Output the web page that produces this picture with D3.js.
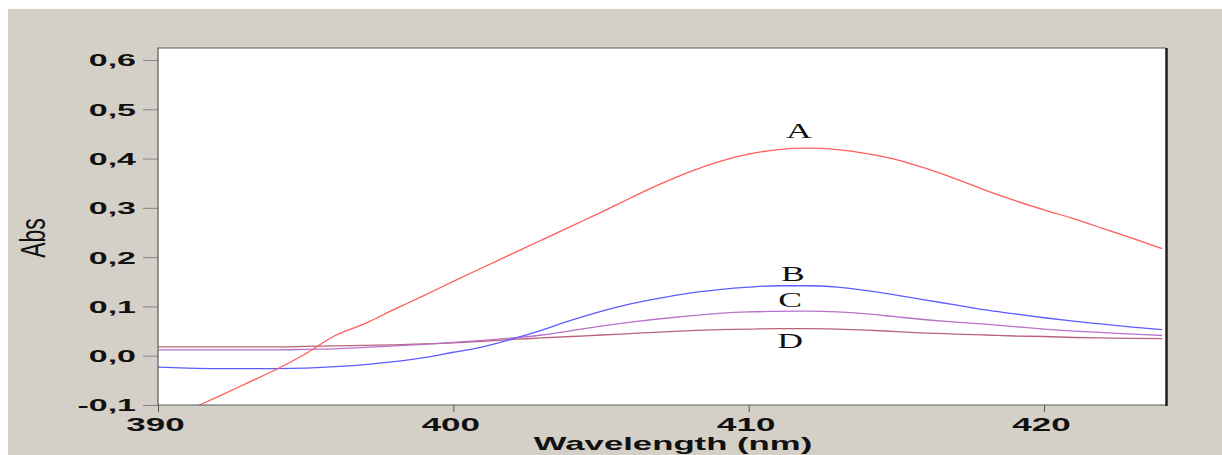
<!DOCTYPE html>
<html>
<head>
<meta charset="utf-8">
<script src="https://cdn.jsdelivr.net/npm/d3@7"></script>
<style>
  html, body { margin: 0; padding: 0; background: #ffffff; }
  svg { display: block; }
</style>
</head>
<body>
<svg id="chart" width="1222" height="455"></svg>
<script>
// Absorption spectra, 390–424 nm
const wavelength = [390, 391, 392, 393, 394, 395, 396, 397, 398, 399,
                    400, 401, 402, 403, 404, 405, 406, 407, 408, 409,
                    410, 411, 412, 413, 414, 415, 416, 417, 418, 419,
                    420, 421, 422, 423, 424];

const seriesA = [-0.139, -0.111, -0.084, -0.056, -0.028, 0.004, 0.041, 0.065, 0.094, 0.122,
                 0.151, 0.179, 0.207, 0.235, 0.263, 0.291, 0.320, 0.348, 0.373, 0.394,
                 0.409, 0.418, 0.421, 0.418, 0.410, 0.398, 0.380, 0.359, 0.336, 0.315,
                 0.296, 0.278, 0.258, 0.238, 0.217];

const seriesB = [-0.023, -0.025, -0.026, -0.026, -0.026, -0.025, -0.022, -0.018, -0.012, -0.004,
                 0.007, 0.018, 0.034, 0.052, 0.072, 0.090, 0.105, 0.117, 0.127, 0.134,
                 0.139, 0.142, 0.142, 0.139, 0.132, 0.123, 0.113, 0.103, 0.093, 0.085,
                 0.077, 0.070, 0.064, 0.058, 0.053];

const seriesC = [0.012, 0.012, 0.012, 0.012, 0.012, 0.013, 0.014, 0.017, 0.020, 0.023,
                 0.027, 0.031, 0.036, 0.042, 0.051, 0.060, 0.068, 0.075, 0.081, 0.086,
                 0.089, 0.090, 0.0905, 0.089, 0.085, 0.079, 0.073, 0.068, 0.064, 0.059,
                 0.054, 0.050, 0.047, 0.044, 0.041];

const seriesD = [0.018, 0.018, 0.018, 0.018, 0.018, 0.019, 0.020, 0.021, 0.022, 0.024,
                 0.026, 0.029, 0.033, 0.036, 0.039, 0.042, 0.045, 0.048, 0.051, 0.053,
                 0.054, 0.055, 0.055, 0.054, 0.052, 0.049, 0.046, 0.044, 0.042, 0.040,
                 0.039, 0.037, 0.036, 0.035, 0.0345];

const seriesNames = ["A", "B", "C", "D"];
const xTicks = [390, 400, 410, 420];
const yTicks = [-0.1, 0.0, 0.1, 0.2, 0.3, 0.4, 0.5, 0.6];

// Curve label anchors (wavelength, absorbance)
const labelNm  = [411.7, 411.5, 411.4, 411.4];
const labelAbs = [0.441, 0.151, 0.098, 0.015];

const colors = ["#ff5c5c", "#5c5cff", "#b872c8", "#b86476"];

const svg = d3.select("#chart");

// window background
svg.append("rect").attr("x", 8).attr("y", 9).attr("width", 1214).attr("height", 446)
   .attr("fill", "#d4d0c8");

const plotLeft = 158, plotRight = 1166, plotTop = 48, plotBottom = 405;

const x = d3.scaleLinear().domain([390, 424.13]).range([plotLeft, plotRight]);
const y = d3.scaleLinear().domain([-0.1, 0.6]).range([plotBottom, 60]);

// plot area
svg.append("rect").attr("x", plotLeft).attr("y", plotTop)
   .attr("width", plotRight - plotLeft).attr("height", plotBottom - plotTop)
   .attr("fill", "#ffffff");

svg.append("clipPath").attr("id", "plotClip")
   .append("rect").attr("x", plotLeft).attr("y", plotTop)
   .attr("width", plotRight - plotLeft).attr("height", plotBottom - plotTop);

const SX = 2.0; // horizontal stretch of the axis lettering

// y axis
const yAxis = d3.axisLeft(y).tickValues(yTicks).tickSize(15).tickSizeOuter(0)
  .tickFormat(d => d3.format(".1f")(d).replace(".", ",").replace("\u2212", "-"));
const gy = svg.append("g").attr("transform", `translate(${plotLeft},0)`).call(yAxis);
gy.select(".domain").remove();
gy.selectAll(".tick line").attr("stroke", "#858585");
gy.selectAll(".tick text")
  .attr("x", -22 / SX).attr("dy", "0.35em")
  .attr("transform", `scale(${SX},1)`)
  .attr("font-family", "'Liberation Sans', Arial, sans-serif")
  .attr("font-weight", "bold").attr("font-size", 17).attr("fill", "#111");

// x axis
const xAxis = d3.axisBottom(x).tickValues(xTicks).tickSize(7).tickSizeOuter(0)
  .tickFormat(d3.format("d"));
const gx = svg.append("g").attr("transform", `translate(0,${plotBottom})`).call(xAxis);
gx.select(".domain").remove();
gx.selectAll(".tick line").attr("stroke", "#555");
gx.selectAll(".tick text")
  .attr("x", -1.5).attr("y", 26.5).attr("dy", 0)
  .attr("transform", `scale(${SX},1)`)
  .attr("font-family", "'Liberation Sans', Arial, sans-serif")
  .attr("font-weight", "bold").attr("font-size", 17.5).attr("fill", "#111");

// axis titles
svg.append("text")
  .attr("transform", `translate(673,450) scale(1.93,1)`)
  .attr("text-anchor", "middle")
  .attr("font-family", "'Liberation Sans', Arial, sans-serif")
  .attr("font-weight", "bold").attr("font-size", 18).attr("fill", "#111")
  .text("Wavelength (nm)");

svg.append("text")
  .attr("transform", `translate(45,238) scale(1.55,1) rotate(-90)`)
  .attr("text-anchor", "middle")
  .attr("font-family", "'Liberation Sans', Arial, sans-serif")
  .attr("font-size", 23).attr("fill", "#111")
  .text("Abs");

// spectra
const allSeries = [seriesA, seriesB, seriesC, seriesD];
const line = d3.line()
  .x((d, i) => x(wavelength[i]))
  .y(d => y(d))
  .curve(d3.curveMonotoneX);

const plot = svg.append("g").attr("clip-path", "url(#plotClip)");
// draw D first so the brighter curves sit on top
[3, 2, 1, 0].forEach(k => {
  plot.append("path")
    .datum(allSeries[k])
    .attr("d", line)
    .attr("fill", "none")
    .attr("stroke", colors[k])
    .attr("stroke-width", 1.3);
});

// curve labels
seriesNames.forEach((name, k) => {
  svg.append("text")
    .attr("transform", `translate(${x(labelNm[k])},${y(labelAbs[k])}) scale(1.7,1)`)
    .attr("text-anchor", "middle")
    .attr("font-family", "'Liberation Serif', 'Times New Roman', serif")
    .attr("font-size", 21).attr("fill", "#111")
    .text(name);
});

// frame
svg.append("path")
  .attr("d", `M${plotLeft},${plotBottom}V${plotTop}H${plotRight}M${plotLeft},${plotBottom}H${plotRight}`)
  .attr("fill", "none").attr("stroke", "#5a5a5a").attr("stroke-width", 1.2);
svg.append("line")
  .attr("x1", plotRight + 0.5).attr("x2", plotRight + 0.5).attr("y1", plotTop).attr("y2", plotBottom + 1)
  .attr("stroke", "#1e1e1e").attr("stroke-width", 2.5);
</script>
</body>
</html>
